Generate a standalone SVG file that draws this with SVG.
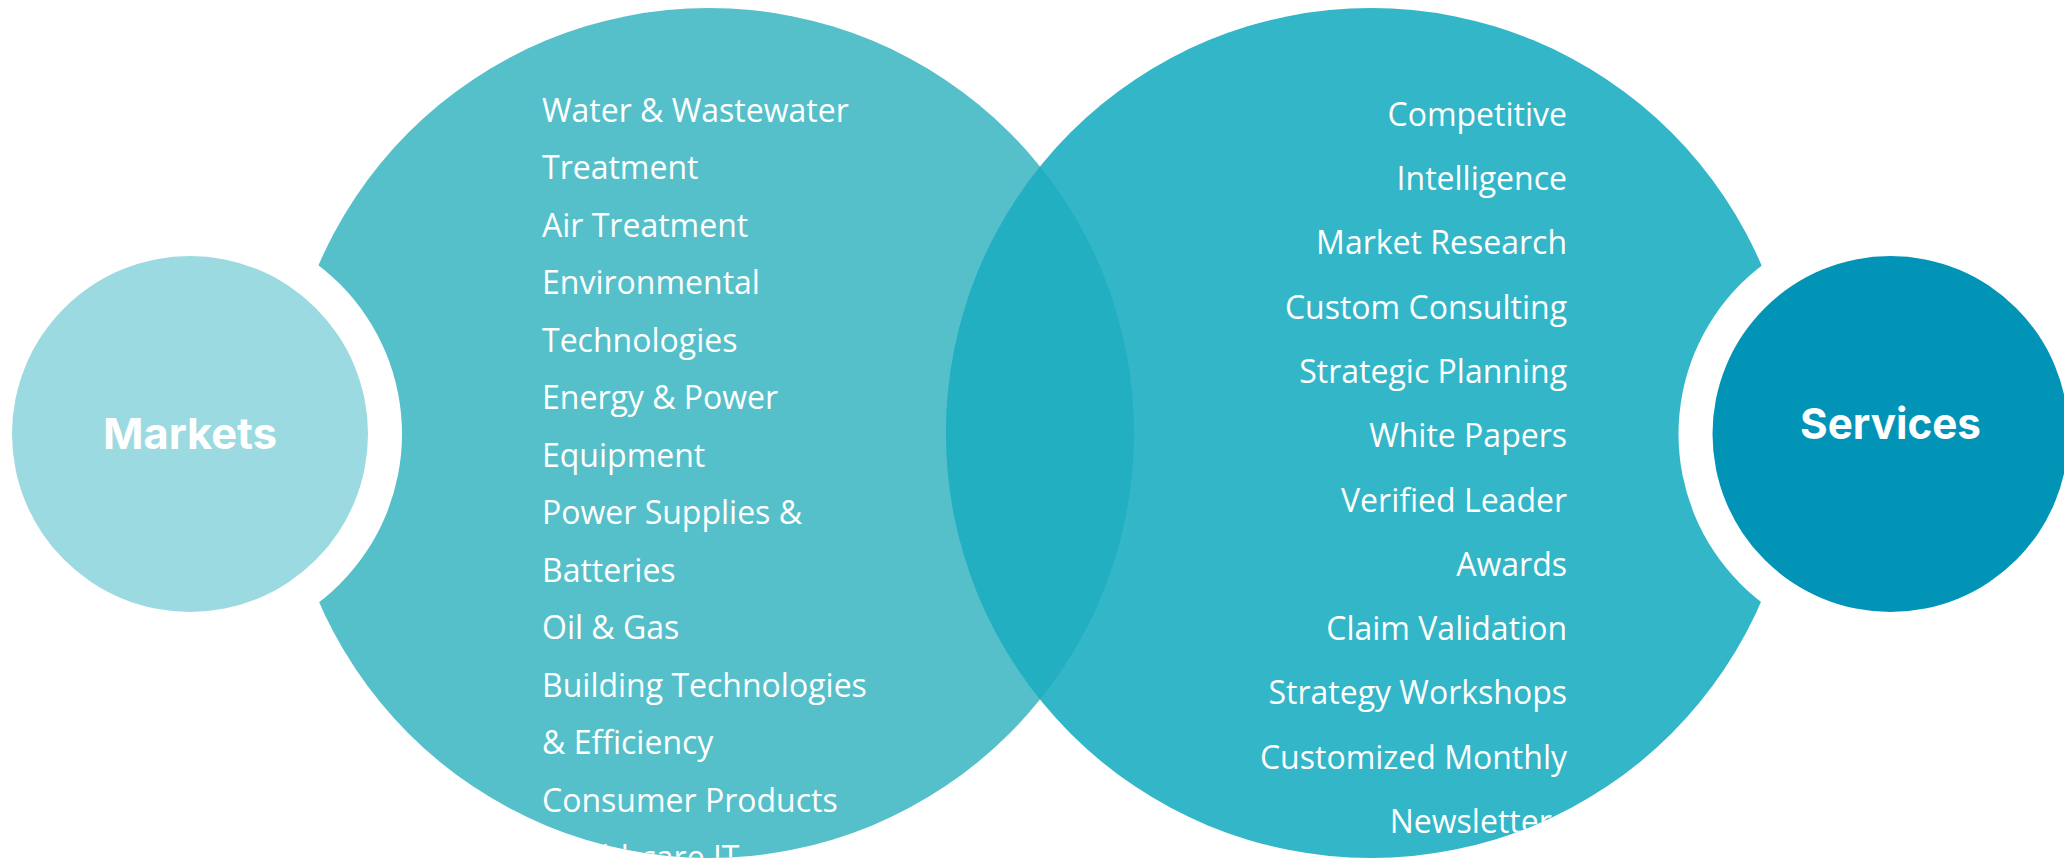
<svg xmlns="http://www.w3.org/2000/svg" width="2064" height="863" viewBox="0 0 2064 863">
  <style>
    .item { font-family: "Open Sans", "Noto Sans", "Liberation Sans", sans-serif; font-size: 32px; fill: #ffffff; }
    .r { text-anchor: end; }
    .title { font-family: Inter, "Noto Sans", "Liberation Sans", sans-serif; font-size: 43px; font-weight: 700; fill: #ffffff; text-anchor: middle; }
  </style>
  <defs>
    <clipPath id="clipLeft"><circle cx="709" cy="433" r="425"/></clipPath>
    <clipPath id="clipRight"><circle cx="1371" cy="433" r="425"/></clipPath>
  </defs>
  <rect width="2064" height="863" fill="#ffffff"/>

  <g id="markets-circle">
    <circle cx="709" cy="433" r="425" fill="#56C0CA"/>
  </g>
  <g id="services-circle">
    <circle cx="1371" cy="433" r="425" fill="#33B6C8"/>
  </g>
  <g id="overlap">
    <circle cx="709" cy="433" r="425" fill="#22AFC2" clip-path="url(#clipRight)"/>
  </g>

  <g id="markets-list" clip-path="url(#clipLeft)">
    <text class="item" x="542" y="121.7">Water &amp; Wastewater</text>
    <text class="item" x="542" y="179.2">Treatment</text>
    <text class="item" x="542" y="236.7">Air Treatment</text>
    <text class="item" x="542" y="294.2">Environmental</text>
    <text class="item" x="542" y="351.7">Technologies</text>
    <text class="item" x="542" y="409.2">Energy &amp; Power</text>
    <text class="item" x="542" y="466.7">Equipment</text>
    <text class="item" x="542" y="524.2">Power Supplies &amp;</text>
    <text class="item" x="542" y="581.7">Batteries</text>
    <text class="item" x="542" y="639.2">Oil &amp; Gas</text>
    <text class="item" x="542" y="696.7">Building Technologies</text>
    <text class="item" x="542" y="754.2">&amp; Efficiency</text>
    <text class="item" x="542" y="811.7">Consumer Products</text>
    <text class="item" x="542" y="869.2">Healthcare IT</text>
  </g>

  <g id="services-list" clip-path="url(#clipRight)">
    <text class="item r" x="1567" y="125.7">Competitive</text>
    <text class="item r" x="1567" y="190">Intelligence</text>
    <text class="item r" x="1567" y="254.3">Market Research</text>
    <text class="item r" x="1567" y="318.6">Custom Consulting</text>
    <text class="item r" x="1567" y="382.9">Strategic Planning</text>
    <text class="item r" x="1567" y="447.2">White Papers</text>
    <text class="item r" x="1567" y="511.5">Verified Leader</text>
    <text class="item r" x="1567" y="575.8">Awards</text>
    <text class="item r" x="1567" y="640.1">Claim Validation</text>
    <text class="item r" x="1567" y="704.4">Strategy Workshops</text>
    <text class="item r" x="1567" y="768.7">Customized Monthly</text>
    <text class="item r" x="1567" y="833">Newsletters</text>
  </g>

  <g id="markets-node">
    <circle cx="190" cy="434" r="212" fill="#ffffff"/>
    <circle cx="190" cy="434" r="178" fill="#9BDAE0"/>
    <text class="title" x="190" y="449.3" textLength="174" lengthAdjust="spacingAndGlyphs">Markets</text>
  </g>

  <g id="services-node">
    <circle cx="1890.5" cy="434" r="212" fill="#ffffff"/>
    <circle cx="1890.5" cy="434" r="178" fill="#0294B7"/>
    <text class="title" x="1890.5" y="439" textLength="181" lengthAdjust="spacingAndGlyphs">Services</text>
  </g>
</svg>
